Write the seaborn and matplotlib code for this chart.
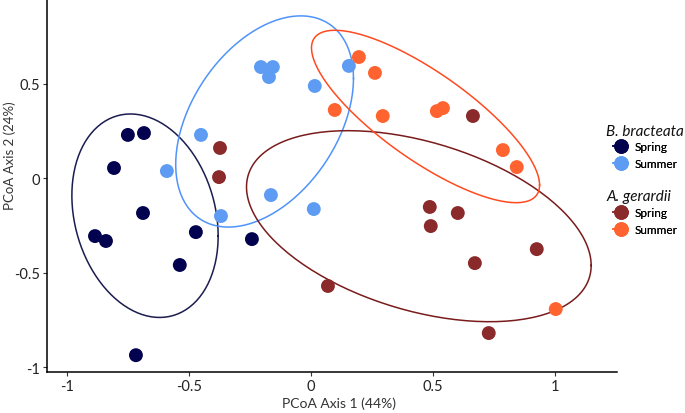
import numpy as np
import pandas as pd
import matplotlib.pyplot as plt
import seaborn as sns
from matplotlib.lines import Line2D

# PCoA scores
bb_spring_x = [-0.751, -0.685, -0.808, -0.689, -0.886, -0.841, -0.472, -0.538, -0.242, -0.718]
bb_spring_y = [0.228, 0.238, 0.053, -0.185, -0.307, -0.333, -0.286, -0.460, -0.323, -0.937]

bb_summer_x = [-0.205, -0.156, -0.172, 0.016, 0.156, -0.451, -0.591, -0.164, -0.369, 0.012]
bb_summer_y = [0.587, 0.587, 0.534, 0.487, 0.593, 0.228, 0.037, -0.090, -0.201, -0.164]

ag_spring_x = [-0.373, -0.377, 0.665, 0.488, 0.603, 0.492, 0.927, 0.673, 0.070, 0.730]
ag_spring_y = [0.159, 0.005, 0.328, -0.153, -0.185, -0.254, -0.376, -0.450, -0.571, -0.820]

ag_summer_x = [0.197, 0.263, 0.098, 0.295, 0.517, 0.542, 0.788, 0.845, 1.005]
ag_summer_y = [0.640, 0.556, 0.360, 0.328, 0.354, 0.370, 0.148, 0.058, -0.693]

grupos = ['bb_spring', 'bb_summer', 'ag_spring', 'ag_summer']
cores = {'bb_spring': '#02024f', 'bb_summer': '#5e9cf4',
         'ag_spring': '#8b2a2a', 'ag_summer': '#ff6430'}
cores_elipse = {'bb_spring': '#1c1c50', 'bb_summer': '#4f93fb',
                'ag_spring': '#7a1c1c', 'ag_summer': '#ff4a20'}
nivel = 0.75

df = pd.concat([
    pd.DataFrame({'x': bb_spring_x, 'y': bb_spring_y, 'grupo': 'bb_spring'}),
    pd.DataFrame({'x': bb_summer_x, 'y': bb_summer_y, 'grupo': 'bb_summer'}),
    pd.DataFrame({'x': ag_spring_x, 'y': ag_spring_y, 'grupo': 'ag_spring'}),
    pd.DataFrame({'x': ag_summer_x, 'y': ag_summer_y, 'grupo': 'ag_summer'}),
], ignore_index=True)


def cov_trob(X, nu=5, tol=1e-4, maxit=50):
    # robust t covariance, same idea as MASS::cov.trob used by stat_ellipse
    n, p = X.shape
    loc = X.mean(axis=0)
    w = np.ones(n)
    for _ in range(maxit):
        w0 = w
        Xc = X - loc
        _, d, vt = np.linalg.svd(np.sqrt(w / w.sum())[:, None] * Xc, full_matrices=False)
        wX = Xc @ vt.T @ np.diag(1 / d)
        Q = (wX ** 2).sum(axis=1)
        w = (nu + p) / (nu + Q)
        loc = (w[:, None] * X).sum(axis=0) / w.sum()
        if np.all(np.abs(w - w0) < tol):
            break
    Xc = X - loc
    cov = (np.sqrt(w)[:, None] * Xc).T @ (np.sqrt(w)[:, None] * Xc) / n
    return loc, cov


def qf2(nivel, dfd):
    # quantil da F(2, dfd), forma fechada
    return dfd / 2 * ((1 - nivel) ** (-2 / dfd) - 1)


plt.rcParams['font.family'] = ['Lato', 'DejaVu Sans']
fig = plt.figure(figsize=(6.85, 4.14), dpi=100)
ax = fig.add_axes([0.0686, 0.099, 0.832, 0.901])

for g in grupos:
    pts = df[df['grupo'] == g][['x', 'y']].to_numpy()
    loc, cov = cov_trob(pts)
    raio = np.sqrt(2 * qf2(nivel, len(pts) - 1))
    t = np.linspace(0, 2 * np.pi, 200)
    circ = np.column_stack([np.cos(t), np.sin(t)])
    L = np.linalg.cholesky(cov).T
    el = loc + raio * circ @ L
    ax.plot(el[:, 0], el[:, 1], color=cores_elipse[g], lw=1.1, zorder=1)

sns.scatterplot(data=df, x='x', y='y', hue='grupo', palette=cores, s=100,
                edgecolor='none', legend=False, ax=ax, zorder=3)

ax.set_xlim(-1.083, 1.256)
ax.set_ylim(-1.026, 0.947)
ax.set_xticks([-1, -0.5, 0, 0.5, 1])
ax.set_xticklabels(['-1', '-0.5', '0', '0.5', '1'])
ax.set_yticks([-1, -0.5, 0, 0.5])
ax.set_yticklabels(['-1', '-0.5', '0', '0.5'])
ax.tick_params(labelsize=10.5, length=3, color='#333333', labelcolor='#222222', pad=2)
ax.spines['top'].set_visible(False)
ax.spines['right'].set_visible(False)
ax.spines['left'].set_linewidth(1.1)
ax.spines['bottom'].set_linewidth(1.1)
ax.set_xlabel('PCoA Axis 1 (44%)', fontsize=10, color='#333333', va='center')
ax.set_ylabel('PCoA Axis 2 (24%)', fontsize=9.5, color='#333333', va='center')
ax.xaxis.set_label_coords(0.512, -0.083)
ax.yaxis.set_label_coords(-0.066, 0.582)


def chave(g):
    return Line2D([0], [0], color=cores[g], marker='o', markersize=9.5, lw=1.2)


fig.text(606 / 685, 1 - 132 / 414, 'B. bracteata', fontsize=11, style='italic',
         va='center', ha='left', color='#111111')
fig.text(606 / 685, 1 - 197 / 414, 'A. gerardii', fontsize=11, style='italic',
         va='center', ha='left', color='#111111')

for (ga, gb), topo in [(('bb_spring', 'bb_summer'), 142),
                       (('ag_spring', 'ag_summer'), 208)]:
    leg = fig.legend([chave(ga), chave(gb)], ['Spring', 'Summer'],
                     loc='upper left', bbox_to_anchor=(613 / 685, 1 - topo / 414),
                     frameon=False, fontsize=8.5, handlelength=1.3, handletextpad=0.5,
                     labelspacing=0.5, borderpad=0, borderaxespad=0)
    fig.add_artist(leg)

fig.savefig('out.png', dpi=100)
